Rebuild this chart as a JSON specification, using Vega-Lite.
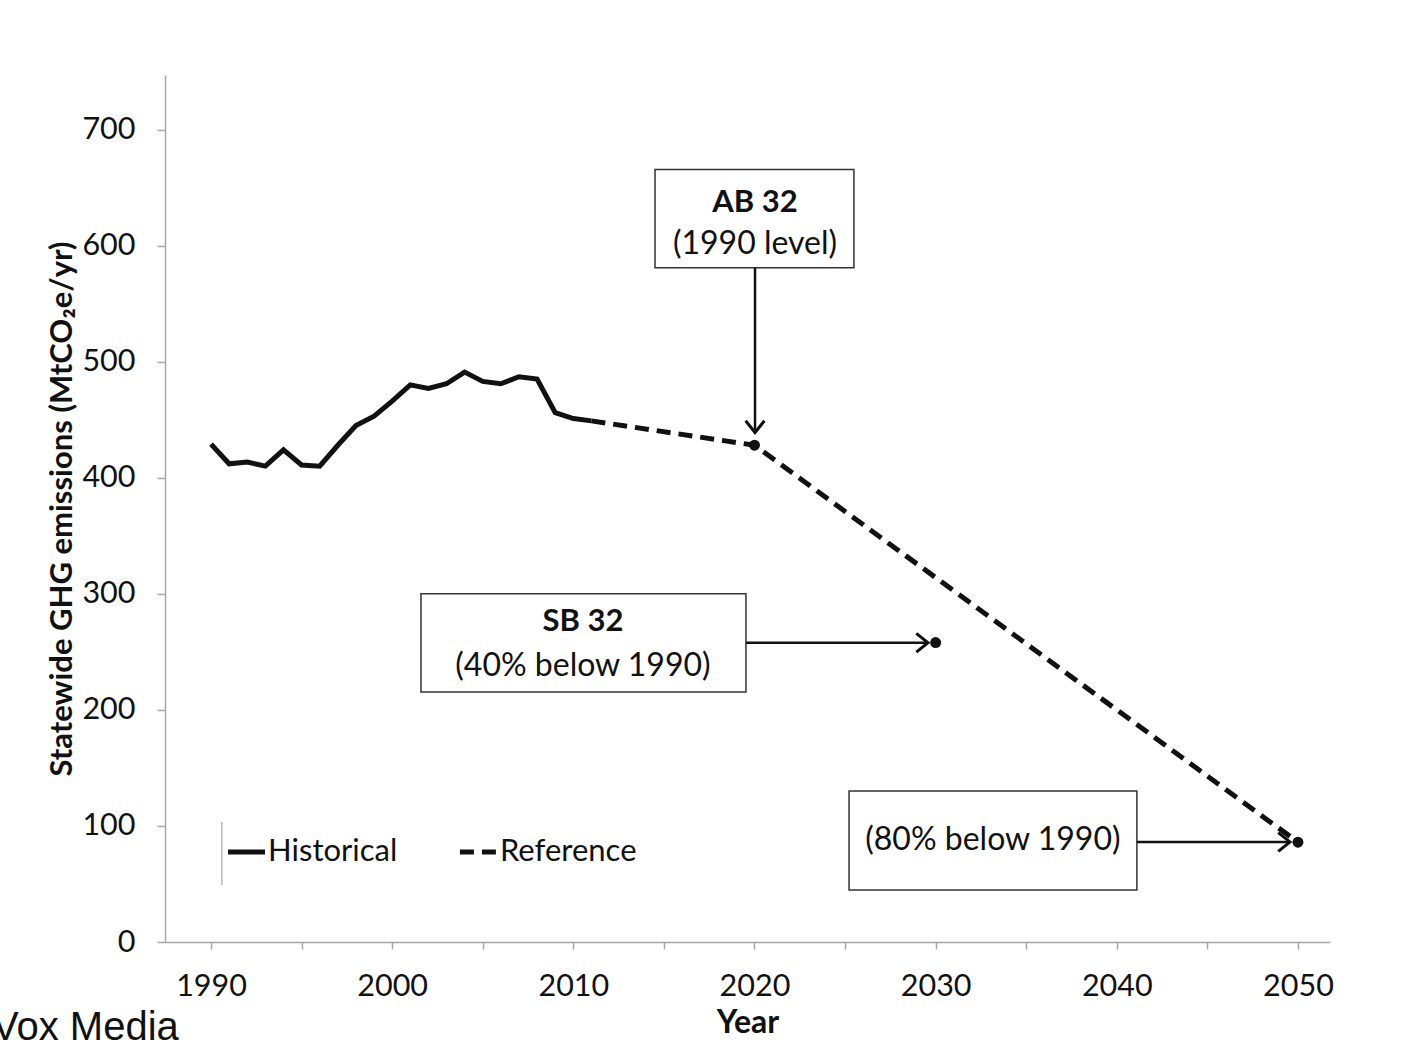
{
  "$schema": "https://vega.github.io/schema/vega-lite/v6.json",
  "width": 1165,
  "height": 867,
  "autosize": {"type": "none"},
  "padding": {"left": 165, "top": 75, "right": 83, "bottom": 101},
  "background": "white",
  "config": {"view": {"stroke": null}, "font": "Lato"},
  "title": {
    "text": "Vox Media",
    "orient": "bottom",
    "anchor": "start",
    "frame": "group",
    "font": "Liberation Sans",
    "fontSize": 40,
    "fontWeight": "normal",
    "color": "#111111",
    "dx": -173,
    "offset": -31
  },
  "datasets": {
    "hist": [
      {"year": 1990, "value": 429}, {"year": 1991, "value": 412}, {"year": 1992, "value": 413.5},
      {"year": 1993, "value": 410}, {"year": 1994, "value": 424}, {"year": 1995, "value": 411},
      {"year": 1996, "value": 410}, {"year": 1997, "value": 428}, {"year": 1998, "value": 445},
      {"year": 1999, "value": 453}, {"year": 2000, "value": 466}, {"year": 2001, "value": 480},
      {"year": 2002, "value": 477}, {"year": 2003, "value": 481}, {"year": 2004, "value": 491},
      {"year": 2005, "value": 483}, {"year": 2006, "value": 481}, {"year": 2007, "value": 487},
      {"year": 2008, "value": 485}, {"year": 2009, "value": 456}, {"year": 2010, "value": 451},
      {"year": 2011, "value": 449}
    ],
    "ref": [
      {"year": 2011, "value": 449}, {"year": 2020, "value": 428}, {"year": 2050, "value": 86}
    ],
    "targets": [
      {"year": 2020, "value": 428}, {"year": 2030, "value": 258}, {"year": 2050, "value": 86}
    ],
    "boxes": [
      {"name": "AB 32", "year": 2014.51, "year2": 2025.49, "value": 665.5, "value2": 581},
      {"name": "SB 32", "year": 2001.59, "year2": 2019.53, "value": 300, "value2": 215.5},
      {"name": "80%", "year": 2025.22, "year2": 2041.11, "value": 130.2, "value2": 44.8}
    ],
    "boldLabels": [
      {"year": 2020.03, "value": 637, "label": "AB 32"},
      {"year": 2010.53, "value": 276, "label": "SB 32"}
    ],
    "plainLabels": [
      {"year": 2020.03, "value": 601.5, "label": "(1990 level)"},
      {"year": 2010.53, "value": 238, "label": "(40% below 1990)"},
      {"year": 2033.16, "value": 88, "label": "(80% below 1990)"}
    ],
    "arrows": [
      {"name": "AB", "dir": "down", "year": 2020.03, "year2": 2020.03, "value": 581, "value2": 439},
      {"name": "SB", "dir": "right", "year": 2019.53, "year2": 2029.58, "value": 257.8, "value2": 257.8},
      {"name": "80", "dir": "right", "year": 2041.11, "year2": 2049.56, "value": 86.2, "value2": 86.2}
    ],
    "legendText": [
      {"year": 1993.15, "value": 77.6, "label": "Historical"},
      {"year": 2005.95, "value": 77.6, "label": "Reference"}
    ],
    "legendHist": [{"year": 1990.94, "value": 77.6}, {"year": 1992.98, "value": 77.6}],
    "legendRef": [{"year": 2003.74, "value": 77.6}, {"year": 2005.84, "value": 77.6}],
    "legendBar": [{"year": 1990.6, "value": 103.4, "value2": 49.1}]
  },
  "encoding": {
    "x": {
      "field": "year",
      "type": "quantitative",
      "scale": {"domain": [1987.46, 2051.77], "nice": false, "zero": false},
      "axis": {
        "title": "Year",
        "values": [1990, 1995, 2000, 2005, 2010, 2015, 2020, 2025, 2030, 2035, 2040, 2045, 2050],
        "labelExpr": "datum.value % 10 == 0 ? datum.label : ''",
        "format": "d",
        "grid": false,
        "domainColor": "#a6a6a6",
        "domainWidth": 1.5,
        "tickColor": "#a6a6a6",
        "tickWidth": 1.5,
        "tickSize": 7,
        "labelFont": "Lato",
        "labelFontSize": 30.5,
        "labelColor": "#111111",
        "labelPadding": 22,
        "labelFlush": false,
        "titleFont": "Lato",
        "titleFontSize": 32,
        "titleFontWeight": "bold",
        "titleColor": "#111111",
        "titlePadding": 6
      }
    },
    "y": {
      "field": "value",
      "type": "quantitative",
      "scale": {"domain": [0, 747], "nice": false},
      "axis": {
        "title": "Statewide GHG emissions (MtCO₂e/yr)",
        "values": [0, 100, 200, 300, 400, 500, 600, 700],
        "grid": false,
        "domainColor": "#a6a6a6",
        "domainWidth": 1.5,
        "tickColor": "#a6a6a6",
        "tickWidth": 1.5,
        "tickSize": 8,
        "labelFont": "Lato",
        "labelFontSize": 30.5,
        "labelColor": "#111111",
        "labelPadding": 22,
        "titleFont": "Lato",
        "titleFontSize": 31,
        "titleFontWeight": "bold",
        "titleColor": "#111111",
        "titlePadding": 3
      }
    }
  },
  "layer": [
    {
      "data": {"name": "hist"},
      "mark": {"type": "line", "color": "#111111", "strokeWidth": 5, "strokeJoin": "miter"}
    },
    {
      "data": {"name": "ref"},
      "mark": {"type": "line", "color": "#111111", "strokeWidth": 5, "strokeDash": [14, 8]}
    },
    {
      "data": {"name": "boxes"},
      "mark": {"type": "rect", "fill": "white", "stroke": "#333333", "strokeWidth": 1.5},
      "encoding": {"x2": {"field": "year2"}, "y2": {"field": "value2"}}
    },
    {
      "data": {"name": "arrows"},
      "mark": {"type": "rule", "color": "#111111", "strokeWidth": 2.5},
      "encoding": {"x2": {"field": "year2"}, "y2": {"field": "value2"}}
    },
    {
      "data": {"name": "arrows"},
      "transform": [{"filter": "datum.dir == 'right'"}],
      "mark": {"type": "point", "shape": "M -1 -0.8 L 0 0 L -1 0.8", "filled": false, "stroke": "#111111", "strokeWidth": 3, "size": 550, "opacity": 1},
      "encoding": {"x": {"field": "year2", "type": "quantitative"}, "y": {"field": "value2", "type": "quantitative"}}
    },
    {
      "data": {"name": "arrows"},
      "transform": [{"filter": "datum.dir == 'down'"}],
      "mark": {"type": "point", "shape": "M -1 -0.8 L 0 0 L -1 0.8", "angle": 90, "filled": false, "stroke": "#111111", "strokeWidth": 3, "size": 550, "opacity": 1},
      "encoding": {"x": {"field": "year2", "type": "quantitative"}, "y": {"field": "value2", "type": "quantitative"}}
    },
    {
      "data": {"name": "targets"},
      "mark": {"type": "point", "shape": "circle", "filled": true, "color": "#111111", "size": 120, "opacity": 1}
    },
    {
      "data": {"name": "boldLabels"},
      "mark": {"type": "text", "font": "Lato", "fontSize": 31, "fontWeight": "bold", "color": "#111111", "baseline": "middle", "align": "center"},
      "encoding": {"text": {"field": "label"}}
    },
    {
      "data": {"name": "plainLabels"},
      "mark": {"type": "text", "font": "Lato", "fontSize": 32, "color": "#111111", "baseline": "middle", "align": "center"},
      "encoding": {"text": {"field": "label"}}
    },
    {
      "data": {"name": "legendBar"},
      "mark": {"type": "rule", "color": "#999999", "strokeWidth": 1},
      "encoding": {"y2": {"field": "value2"}}
    },
    {
      "data": {"name": "legendHist"},
      "mark": {"type": "line", "color": "#111111", "strokeWidth": 5}
    },
    {
      "data": {"name": "legendRef"},
      "mark": {"type": "line", "color": "#111111", "strokeWidth": 5, "strokeDash": [14, 8]}
    },
    {
      "data": {"name": "legendText"},
      "mark": {"type": "text", "font": "Lato", "fontSize": 31, "color": "#111111", "baseline": "middle", "align": "left"},
      "encoding": {"text": {"field": "label"}}
    }
  ]
}
